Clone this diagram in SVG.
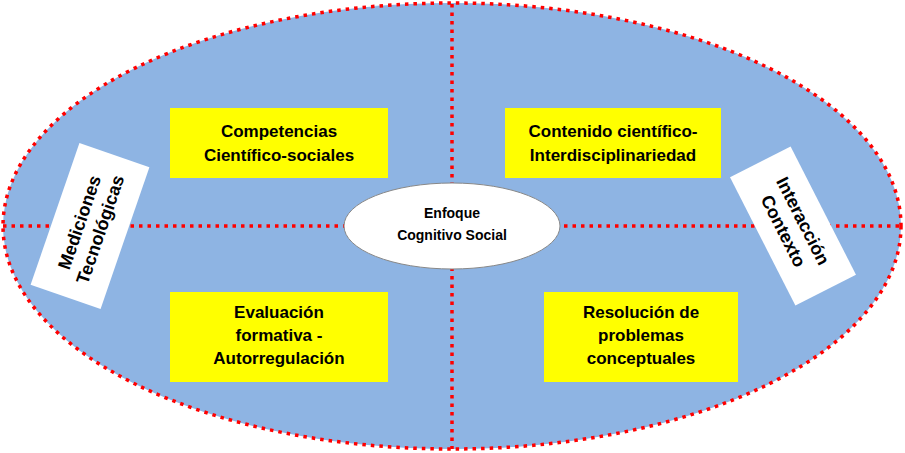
<svg xmlns="http://www.w3.org/2000/svg" width="905" height="453" viewBox="0 0 905 453">
<style>
.dot{stroke:#FF0000;stroke-width:3.5;stroke-dasharray:3.5 5;fill:none}
.y{fill:#FFFF00}
.w{fill:#FFFFFF}
text{font-family:"Liberation Sans Narrow","Liberation Sans",Arial,sans-serif;font-weight:bold;font-size:17px;fill:#000;text-anchor:middle}
.s{font-size:14px}
.r{font-size:18px}
</style>
<rect width="905" height="453" fill="#fff"/>
<g id="outer"><ellipse cx="452" cy="226" rx="449" ry="223" fill="#8EB4E3"/></g>
<g id="connectors">
<line class="dot" x1="452" y1="4" x2="452" y2="449"/>
<line class="dot" x1="3" y1="226" x2="903" y2="226"/>
<ellipse class="dot" cx="452" cy="226" rx="449" ry="223"/>
</g>
<g id="center"><ellipse cx="452" cy="226" rx="108" ry="43" fill="#fff" stroke="#888" stroke-width="1"/>
<text class="s" x="452" y="218">Enfoque</text><text class="s" x="452" y="240">Cognitivo Social</text></g>
<g id="n1"><rect class="y" x="170" y="108" width="218" height="70"/>
<text x="279" y="137">Competencias</text><text x="279" y="161">Científico-sociales</text></g>
<g id="n2"><rect class="y" x="505" y="108" width="216" height="70"/>
<text x="613" y="137">Contenido científico-</text><text x="613" y="161">Interdisciplinariedad</text></g>
<g id="n3"><rect class="y" x="170" y="292" width="218" height="90"/>
<text x="279" y="318">Evaluación</text><text x="279" y="341">formativa -</text><text x="279" y="364">Autorregulación</text></g>
<g id="n4"><rect class="y" x="544" y="292" width="194" height="90"/>
<text x="641" y="318">Resolución de</text><text x="641" y="341">problemas</text><text x="641" y="364">conceptuales</text></g>
<g id="n5" transform="translate(90,226) rotate(-71)"><rect class="w" x="-75" y="-37" width="150" height="74"/>
<text class="r" x="0" y="-5">Mediciones</text><text class="r" x="0" y="17">Tecnológicas</text></g>
<g id="n6" transform="translate(793,226) rotate(63)"><rect class="w" x="-72" y="-34" width="144" height="68"/>
<text class="r" x="0" y="-5">Interacción</text><text class="r" x="0" y="17">Contexto</text></g>
</svg>
